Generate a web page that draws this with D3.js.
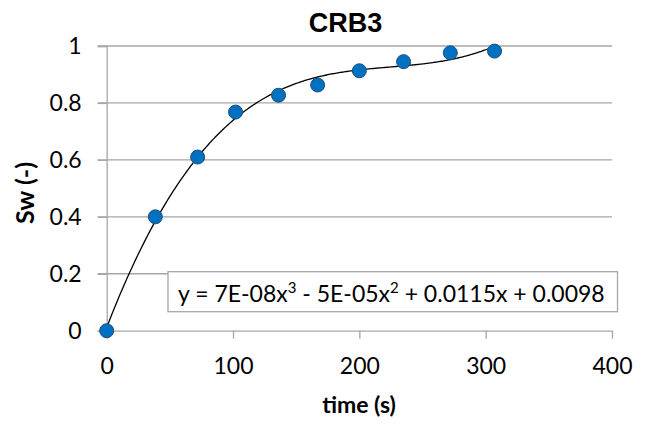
<!DOCTYPE html>
<html><head><meta charset="utf-8">
<script src="https://cdn.jsdelivr.net/npm/d3@7"></script>
<style>body{margin:0;background:#fff}svg{display:block}</style>
</head><body>
<svg id="c" width="650" height="424"></svg>
<script>
const timeS = [0, 38.5, 72, 102, 136, 167, 200, 235, 272, 307];
const sw = [0, 0.40, 0.61, 0.768, 0.827, 0.863, 0.913, 0.945, 0.976, 0.982];
const xTicks = [0, 100, 200, 300, 400];
const yTicks = [0, 0.2, 0.4, 0.6, 0.8, 1];
const yTickLabels = ["0", "0.2", "0.4", "0.6", "0.8", "1"];
const title = "CRB3";
const xLabel = "time (s)";
const yLabel = "Sw (-)";

const svg = d3.select("#c");
const x = d3.scaleLinear().domain([0, 400]).range([106.7, 612]);
const y = d3.scaleLinear().domain([0, 1]).range([330.7, 46]);
const grid = "#a6a6a6";
const font = "Lato, 'Open Sans', sans-serif";

// gridlines
svg.append("g").selectAll("line").data(yTicks.slice(1)).join("line")
  .attr("x1", x(0) - 9).attr("x2", x(400)).attr("y1", d => y(d)).attr("y2", d => y(d))
  .attr("stroke", grid).attr("stroke-width", 1.3);
// y axis
const ya = svg.append("g").attr("transform", `translate(${x(0)},0)`)
  .call(d3.axisLeft(y).tickValues(yTicks).tickSize(9).tickPadding(16).tickFormat((d,i)=>yTickLabels[i]));
ya.select(".domain").attr("stroke", grid).attr("stroke-width", 1.3);
ya.selectAll(".tick line").attr("stroke", grid).attr("stroke-width", 1.3);
ya.selectAll("text").attr("font-family", font).attr("font-size", 23).attr("fill", "#000");
// x axis
const xa = svg.append("g").attr("transform", `translate(0,${y(0)})`)
  .call(d3.axisBottom(x).tickValues(xTicks).tickSize(8).tickPadding(19).tickSizeOuter(0));
xa.select(".domain").attr("stroke", grid).attr("stroke-width", 1.3);
xa.selectAll(".tick line").attr("stroke", grid).attr("stroke-width", 1.3);
xa.selectAll("text").attr("font-family", font).attr("font-size", 23).attr("fill", "#000");

// cubic least squares trendline
function polyfit(xs, ys, deg) {
  const n = deg + 1;
  const A = Array.from({length: n}, () => new Array(n + 1).fill(0));
  for (let k = 0; k < xs.length; k++) {
    for (let i = 0; i < n; i++) {
      for (let j = 0; j < n; j++) A[i][j] += Math.pow(xs[k], i + j);
      A[i][n] += ys[k] * Math.pow(xs[k], i);
    }
  }
  for (let i = 0; i < n; i++) {
    let p = i;
    for (let r = i + 1; r < n; r++) if (Math.abs(A[r][i]) > Math.abs(A[p][i])) p = r;
    [A[i], A[p]] = [A[p], A[i]];
    for (let r = 0; r < n; r++) if (r !== i) {
      const f = A[r][i] / A[i][i];
      for (let c = i; c <= n; c++) A[r][c] -= f * A[i][c];
    }
  }
  return A.map((row, i) => row[n] / row[i]);
}
const coef = polyfit(timeS, sw, 3);
const f = t => coef.reduce((s, c, i) => s + c * Math.pow(t, i), 0);
const tx = d3.range(0, 307.01, 1);
svg.append("path").datum(tx)
  .attr("d", d3.line().x(d => x(d)).y(d => y(f(d))))
  .attr("fill", "none").attr("stroke", "#000").attr("stroke-width", 1.3);

// points
svg.append("g").selectAll("circle").data(timeS).join("circle")
  .attr("cx", d => x(d)).attr("cy", (d, i) => y(sw[i])).attr("r", 7)
  .attr("fill", "#0070c0").attr("stroke", "#1f4e79").attr("stroke-width", 1);

// equation box
svg.append("rect").attr("x", 168).attr("y", 271.7).attr("width", 449.5).attr("height", 40)
  .attr("fill", "#fff").attr("stroke", grid).attr("stroke-width", 1.3);
const eq = svg.append("text").attr("x", 178).attr("y", 301.7)
  .attr("font-family", font).attr("font-size", 23).attr("fill", "#000");
eq.append("tspan").text("y = 7E-08x");
eq.append("tspan").attr("font-size", 15).attr("dy", -9).text("3");
eq.append("tspan").attr("dy", 9).text(" - 5E-05x");
eq.append("tspan").attr("font-size", 15).attr("dy", -9).text("2");
eq.append("tspan").attr("dy", 9).text(" + 0.0115x + 0.0098");

// titles
svg.append("text").attr("x", 345.5).attr("y", 32.3).attr("text-anchor", "middle")
  .attr("font-family", "Liberation Sans, Arial, sans-serif").attr("font-weight", "bold")
  .attr("font-size", 27).text(title);
svg.append("text").attr("x", 359).attr("y", 413).attr("text-anchor", "middle")
  .attr("font-family", font).attr("font-weight", "bold").attr("font-size", 23).text(xLabel);
svg.append("text").attr("transform", "translate(34,193) rotate(-90)").attr("text-anchor", "middle")
  .attr("font-family", font).attr("font-weight", "bold").attr("font-size", 25).text(yLabel);
</script>
</body></html>
